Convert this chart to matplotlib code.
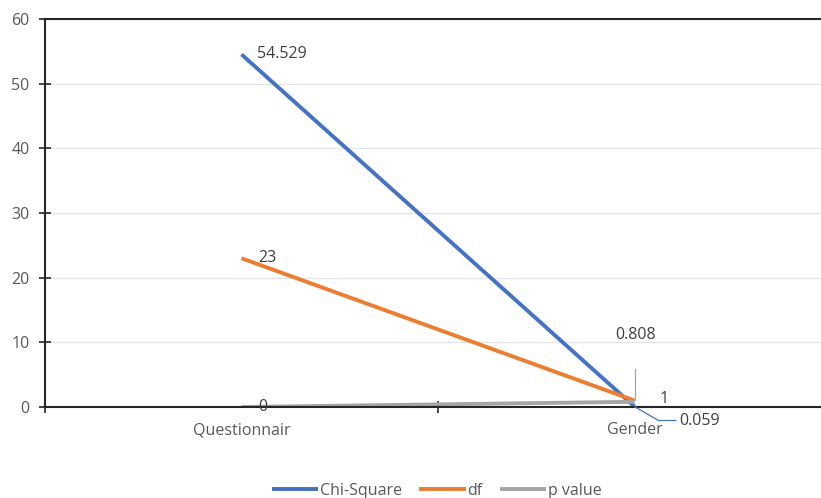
import numpy as np
import matplotlib.pyplot as plt

plt.rcParams['font.family'] = ['Open Sans', 'DejaVu Sans']

# data
categories = ['Questionnair', 'Gender']
chi_square = [54.529, 0.059]
df_vals = [23, 1]
p_value = [0, 0.808]

series = [('Chi-Square', chi_square, '#4472C4'),
          ('df', df_vals, '#ED7D31'),
          ('p value', p_value, '#A5A5A5')]

fig = plt.figure(figsize=(8.21, 4.98), dpi=100)
ax = fig.add_axes([45 / 821, 91 / 498, 786 / 821, 388 / 498])

x = np.arange(len(categories))
for name, vals, col in series:
    ax.plot(x, vals, color=col, lw=2.8, label=name, solid_capstyle='butt')

ax.set_xlim(-0.5, 1.5)
ax.set_ylim(0, 60)
ax.set_yticks(range(0, 61, 10))
ax.yaxis.grid(True, color='#E3E3E3', lw=0.9)
ax.set_axisbelow(True)
ax.set_xticks(x)
ax.set_xticklabels(categories)
ax.set_xticks([-0.5, 0, 0.5, 1, 1.5], minor=True)
ax.tick_params(axis='x', which='major', length=0, pad=11, labelsize=11.5, labelcolor='#595959')
ax.tick_params(axis='x', which='minor', length=8, direction='inout', width=1.2, color='#262626')
ax.tick_params(axis='y', length=8, direction='inout', width=1.2, color='#262626',
               labelsize=11.5, labelcolor='#595959', pad=7)
for s in ['left', 'bottom', 'top']:
    ax.spines[s].set_color('#262626')
    ax.spines[s].set_linewidth(1.5)
ax.spines['right'].set_visible(False)

lab = dict(fontsize=11.5, color='#404040')
ax.annotate(f'{chi_square[0]:g}', (x[0], chi_square[0]), xytext=(11, 0),
            textcoords='offset points', va='center', ha='left', **lab)
ax.annotate(f'{df_vals[0]:g}', (x[0], df_vals[0]), xytext=(12, 0),
            textcoords='offset points', va='center', ha='left', **lab)
ax.annotate(f'{p_value[0]:g}', (x[0], p_value[0]), xytext=(12, 0),
            textcoords='offset points', va='center', ha='left', **lab)
ax.annotate(f'{df_vals[1]:g}', (x[1], df_vals[1]), xytext=(18, 1),
            textcoords='offset points', va='center', ha='left', **lab)
ax.annotate(f'{p_value[1]:g}', (x[1], p_value[1]), xytext=(1, 42),
            textcoords='offset points', va='bottom', ha='center', **lab)
ax.plot([x[1], x[1]], [p_value[1] + 0.3, p_value[1] + 5], color='#A5A5A5', lw=0.9)
ax.annotate(f'{chi_square[1]:g}', (x[1], chi_square[1]), xytext=(32, -10),
            textcoords='offset points', va='center', ha='left',
            arrowprops=dict(arrowstyle='-', color='#4472C4', lw=0.9,
                            connectionstyle='angle,angleA=0,angleB=-30,rad=0',
                            shrinkA=0, shrinkB=0), **lab)

leg = fig.legend(loc='lower center', bbox_to_anchor=(0.532, -0.03), ncol=3,
                 frameon=False, fontsize=11.5, handlelength=2.9, handletextpad=0.1,
                 columnspacing=1.1)
for t in leg.get_texts():
    t.set_color('#595959')

fig.savefig('out.png', dpi=100)
